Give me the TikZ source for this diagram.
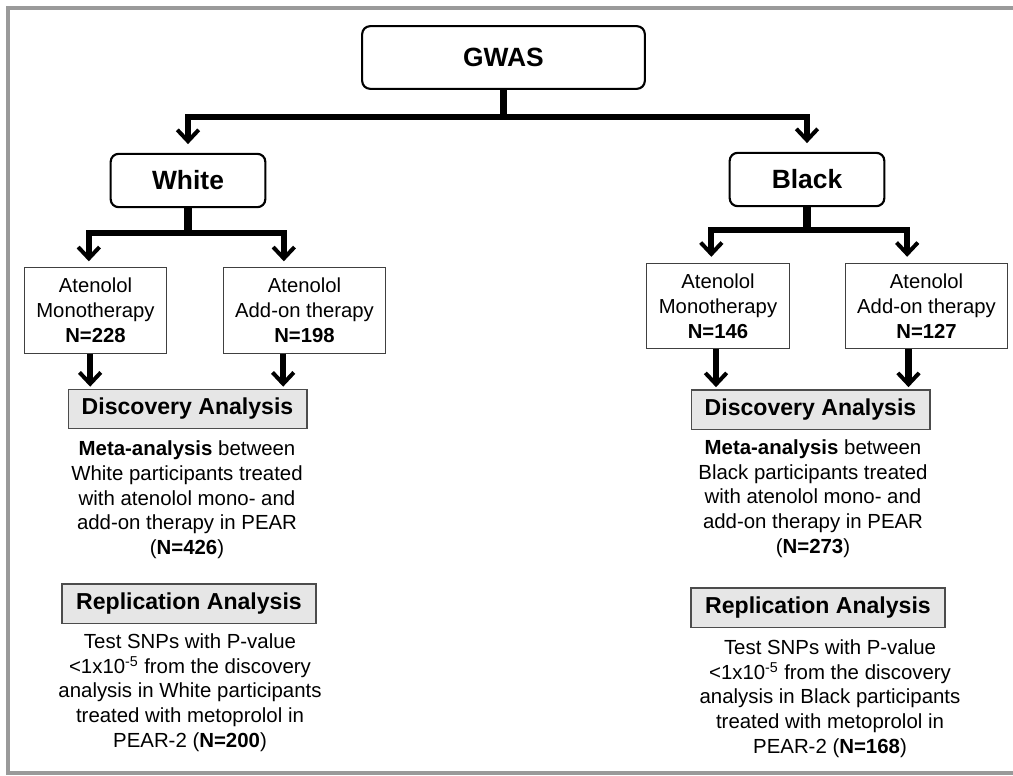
\documentclass[tikz,border=0pt]{standalone}
\usepackage{fontspec}
\setmainfont{Liberation Sans}
\usetikzlibrary{arrows.meta,positioning}
\definecolor{framegray}{HTML}{9A9A9A}
\definecolor{boxgray}{HTML}{E6E6E6}
\begin{document}
\begin{tikzpicture}[x=0.75pt,y=-0.75pt,
	group node/.style = {draw, rounded corners=6pt, line width=1.6pt, minimum width=116pt, minimum height=40pt, inner sep=0pt, font=\fontsize{19.8}{23}\selectfont\bfseries},
	arm node/.style = {draw=black!75, line width=0.8pt, minimum height=64pt, inner sep=0pt, align=center, font=\fontsize{15.2}{18.6}\selectfont},
	analysis node/.style = {draw=black!70, fill=boxgray, line width=1pt, minimum height=29.5pt, inner sep=0pt, font=\fontsize{17.3}{20}\selectfont\bfseries},
	text node/.style = {align=center, inner sep=0pt, font=\fontsize{15.3}{18.5}\selectfont},
	border line/.style = {draw=framegray, line width=2.3pt},
	bar/.style = {line width=5.5pt},
	link/.style = {line width=4.6pt, -{Straight Barb[length=8.5pt,width=16pt,line width=3pt]}}]
	
	\useasboundingbox (0,0) rectangle (1013,775);
	\draw[border line] (1013,8) -- (8,8) -- (8,773) -- (1013,773);
	
	\node[group node, minimum width=212pt, minimum height=47pt] at (503.5,57.5) (g) {GWAS};
	\node[group node] at (188,180.5) (w) {White};
	\node[group node] at (807,179.5) (b) {Black};
	
	\node[arm node, minimum width=107pt] at (95.5,310.5) (w1) {Atenolol\\Monotherapy\\\textbf{N=228}};
	\node[arm node, minimum width=122pt] at (304.5,310.5) (w2) {Atenolol\\Add-on therapy\\\textbf{N=198}};
	\node[arm node, minimum width=107pt] at (718,306) (b1) {Atenolol\\Monotherapy\\\textbf{N=146}};
	\node[arm node, minimum width=122pt] at (926.5,306) (b2) {Atenolol\\Add-on therapy\\\textbf{N=127}};
	
	\node[analysis node, minimum width=179pt] at (187.5,409) (wd) {Discovery Analysis};
	\node[analysis node, minimum width=179pt] at (810.5,409.5) (bd) {Discovery Analysis};
	\node[text node] at (187,500) (wm) {\textbf{Meta-analysis} between\\White participants treated\\with atenolol mono- and\\add-on therapy in PEAR\\(\textbf{N=426})};
	\node[text node] at (813,498.5) (bm) {\textbf{Meta-analysis} between\\Black participants treated\\with atenolol mono- and\\add-on therapy in PEAR\\(\textbf{N=273})};
	
	\node[analysis node, minimum width=190.5pt] at (189,603.5) (wr) {Replication Analysis};
	\node[analysis node, minimum width=190.5pt] at (818,607.5) (br) {Replication Analysis};
	\node[text node] at (190,692.5) (wt) {Test SNPs with P-value\\<1x10\textsuperscript{-5} from the discovery\\analysis in White participants\\treated with metoprolol in\\PEAR-2 (\textbf{N=200})};
	\node[text node] at (830,698.5) (bt) {Test SNPs with P-value\\<1x10\textsuperscript{-5} from the discovery\\analysis in Black participants\\treated with metoprolol in\\PEAR-2 (\textbf{N=168})};
	
	% split points
	\coordinate (gs) at (503.5,117);
	\coordinate (ws) at (188,233);
	\coordinate (bs) at (807,230);
	
	\draw[bar] (g) -- (gs);
	\draw[link, shorten >=6.5pt] (gs) -| (w);
	\draw[link, shorten >=6.5pt] (gs) -| (b);
	
	\draw[bar] (w) -- (ws);
	\draw[link, shorten >=4.5pt] (ws) -| ([xshift=-5pt]w1.north);
	\draw[link, shorten >=4.5pt] (ws) -| ([xshift=-15.5pt]w2.north);
	\draw[bar] (b) -- (bs);
	\draw[link, shorten >=4.5pt] (bs) -| ([xshift=-5pt]b1.north);
	\draw[link, shorten >=4.5pt] (bs) -| ([xshift=-14.5pt]b2.north);
	
	\draw[link, shorten >=1.5pt] ([xshift=-4pt]w1.south) -- ([xshift=-4pt]w1.south |- wd.north);
	\draw[link, shorten >=1.5pt] ([xshift=-16pt]w2.south) -- ([xshift=-16pt]w2.south |- wd.north);
	\draw[link, shorten >=1.5pt] ([xshift=-1.5pt]b1.south) -- ([xshift=-1.5pt]b1.south |- bd.north);
	\draw[link, shorten >=1.5pt] ([xshift=-13.5pt]b2.south) -- ([xshift=-13.5pt]b2.south |- bd.north);
	
\end{tikzpicture}
\end{document}
